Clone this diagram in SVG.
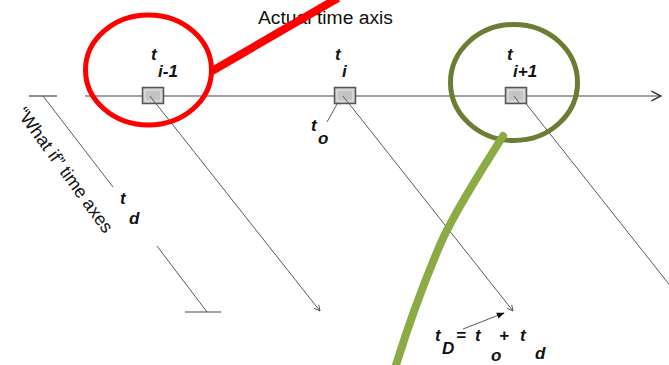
<svg xmlns="http://www.w3.org/2000/svg" width="669" height="365" viewBox="0 0 669 365">
<defs>
<marker id="arr" viewBox="0 0 10 10" refX="9" refY="5" markerWidth="7" markerHeight="7" orient="auto" markerUnits="userSpaceOnUse">
<path d="M1,1 L9,5 L1,9" fill="none" stroke="#444" stroke-width="1.2"/>
</marker>
<marker id="arrbig" viewBox="0 0 10 10" refX="9" refY="5" markerWidth="12" markerHeight="12" orient="auto" markerUnits="userSpaceOnUse">
<path d="M1,1 L9,5 L1,9" fill="none" stroke="#333" stroke-width="1.2"/>
</marker>
<marker id="solid" viewBox="0 0 10 10" refX="9" refY="5" markerWidth="8" markerHeight="8" orient="auto" markerUnits="userSpaceOnUse">
<path d="M0,1 L10,5 L0,9 Z" fill="#111"/>
</marker>
</defs>
<style>
.ax{stroke:#444;stroke-width:1.2;fill:none}
.thin{stroke:#5a5a5a;stroke-width:1;fill:none}
.lbl{font-family:"Liberation Sans",Arial,sans-serif;font-weight:bold;font-style:italic;font-size:17px;fill:#111}
.txt{font-family:"Liberation Sans",Arial,sans-serif;font-size:18px;fill:#111}
.box{fill:#c4c4c4;stroke:#555;stroke-width:1.5}
.boxin{fill:none;stroke:#e8e8e8;stroke-width:1}
</style>
<g id="axis-label">
<text class="txt" x="258" y="24" textLength="135" lengthAdjust="spacingAndGlyphs">Actual time axis</text>
</g>
<g id="connectors">
<line class="ax" x1="85" y1="96" x2="661" y2="96" marker-end="url(#arrbig)"/>
<line class="ax" x1="29" y1="96" x2="57" y2="96"/>
<line class="thin" x1="43" y1="96" x2="113" y2="187"/>
<line class="thin" x1="157" y1="246" x2="207" y2="312"/>
<line class="ax" x1="185" y1="312" x2="221" y2="312"/>
<line class="thin" x1="150" y1="96" x2="320" y2="311" marker-end="url(#arr)"/>
<line class="thin" x1="343" y1="96" x2="513" y2="311" marker-end="url(#arr)"/>
<line class="thin" x1="520" y1="96" x2="672" y2="288"/>
<line class="thin" stroke="#222" x1="327" y1="122" x2="341" y2="97" marker-end="url(#solid)"/>
<line class="thin" stroke="#222" x1="463" y1="329" x2="504" y2="313" marker-end="url(#solid)"/>
</g>
<g id="node-ti-1">
<rect class="box" x="142.5" y="87.5" width="21" height="16"/>
<rect class="boxin" x="145" y="90" width="16" height="11"/>
<line class="thin" x1="150" y1="96" x2="156" y2="104"/>
<text class="lbl" x="151" y="60">t</text>
<text class="lbl" x="158" y="77">i-1</text>
</g>
<g id="node-ti">
<rect class="box" x="334.5" y="87.5" width="21" height="16"/>
<rect class="boxin" x="337" y="90" width="16" height="11"/>
<line class="thin" x1="343" y1="96" x2="349" y2="104"/>
<text class="lbl" x="335" y="60">t</text>
<text class="lbl" x="342" y="77">i</text>
</g>
<g id="node-ti+1">
<rect class="box" x="505.5" y="87.5" width="21" height="16"/>
<rect class="boxin" x="508" y="90" width="16" height="11"/>
<line class="thin" x1="514" y1="96" x2="520" y2="104"/>
<text class="lbl" x="507" y="60">t</text>
<text class="lbl" x="513" y="77">i+1</text>
</g>
<g id="label-to">
<text class="lbl" x="311" y="131">t</text>
<text class="lbl" x="318" y="144">o</text>
</g>
<g id="label-td">
<text class="lbl" x="120" y="204">t</text>
<text class="lbl" x="129" y="224">d</text>
</g>
<g id="label-whatif">
<text class="txt" x="0" y="0" transform="translate(16,113) rotate(54)" textLength="150" lengthAdjust="spacingAndGlyphs">“What if” time axes</text>
</g>
<g id="label-tD">
<text class="lbl" x="435" y="341">t</text>
<text class="lbl" x="442" y="354">D</text>
<text class="lbl" x="456" y="341" font-style="normal" font-size="20">=</text>
<text class="lbl" x="475" y="341">t</text>
<text class="lbl" x="499" y="341" font-style="normal">+</text>
<text class="lbl" x="491" y="361">o</text>
<text class="lbl" x="520" y="341">t</text>
<text class="lbl" x="535" y="359">d</text>
</g>
<g id="red-highlight">
<ellipse cx="148.5" cy="70" rx="63" ry="55" fill="none" stroke="#f00" stroke-width="5"/>
<line x1="212" y1="71" x2="338" y2="-2" stroke="#f00" stroke-width="8"/>
</g>
<g id="green-highlight">
<ellipse cx="514" cy="82.5" rx="63.5" ry="58" fill="none" stroke="#6b7d32" stroke-width="5"/>
<path d="M503,136 C485,165 455,210 440,245 C425,280 410,320 396,365" fill="none" stroke="#8cab45" stroke-width="8" stroke-linecap="round"/>
</g>
</svg>
